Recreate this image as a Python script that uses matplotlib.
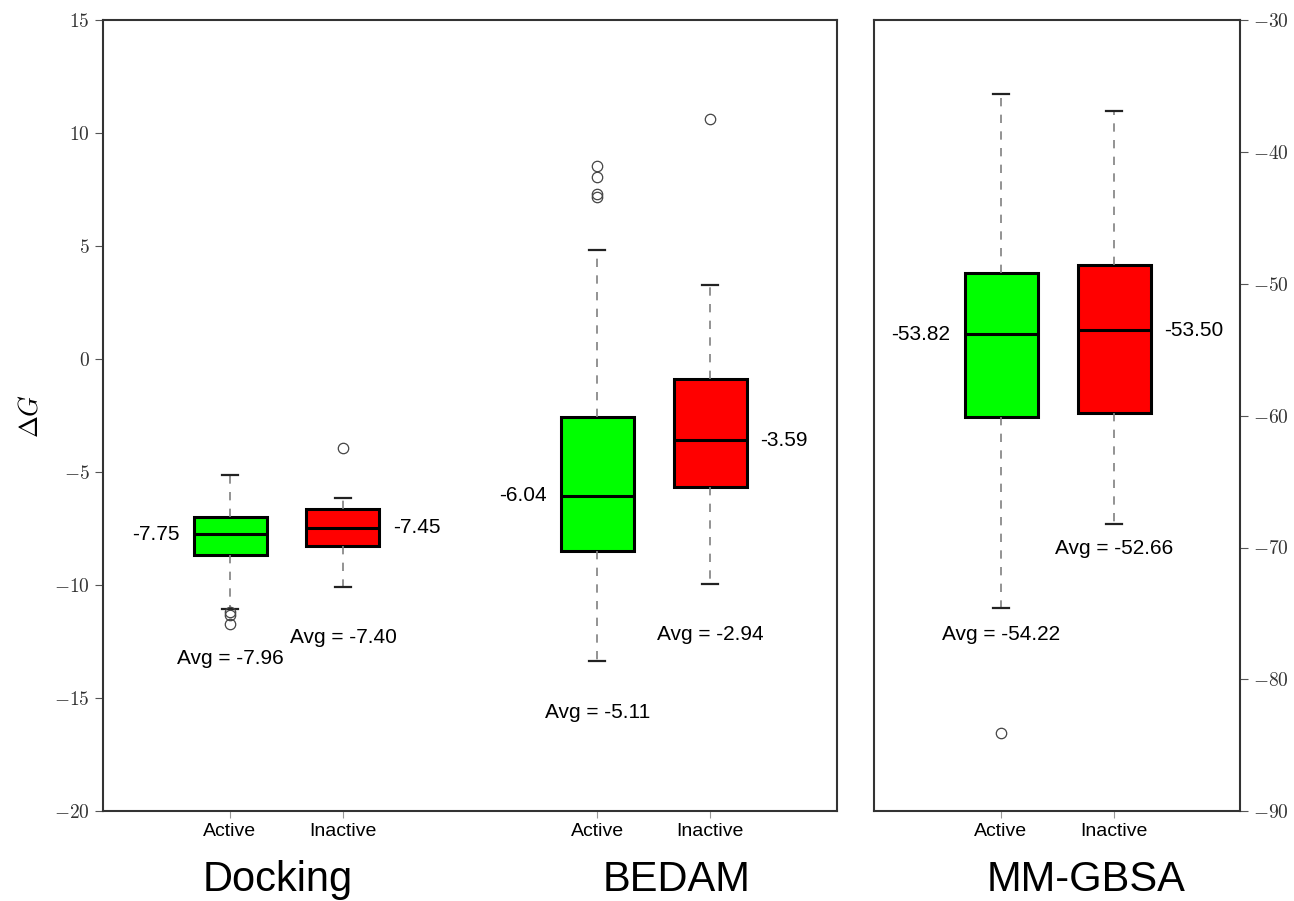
import matplotlib
matplotlib.use('Agg')
import matplotlib.pyplot as plt
from matplotlib.ticker import FuncFormatter

plt.rcParams['font.family'] = ['Liberation Sans', 'DejaVu Sans']
plt.rcParams['mathtext.fontset'] = 'cm'

# box stats: (q1, median, q3, whislo, whishi, outliers)
groups = ['Docking', 'BEDAM', 'MM-GBSA']
labels = ['Active', 'Inactive']
colors = ['#00ff00', '#ff0000']

docking_act = (-8.68, -7.75, -7.0, -11.07, -5.14, [-11.2, -11.33, -11.7])
docking_ina = (-8.28, -7.45, -6.65, -10.1, -6.16, [-3.95])
bedam_act = (-8.51, -6.04, -2.57, -13.38, 4.86, [7.2, 7.34, 8.09, 8.58])
bedam_ina = (-5.67, -3.59, -0.89, -9.97, 3.27, [10.62])
gbsa_act = (-60.13, -53.82, -49.19, -74.57, -35.58, [-84.06])
gbsa_ina = (-59.77, -53.50, -48.58, -68.18, -36.88, [])

averages = [-7.96, -7.40, -5.11, -2.94, -54.22, -52.66]
avg_y = [-13.24, -12.31, -15.63, -12.18, -76.6, -70.08]

left_pos = [1, 2, 4.25, 5.25]
right_pos = [1, 2]


def stats(s):
    q1, med, q3, lo, hi, fl = s
    return dict(q1=q1, med=med, q3=q3, whislo=lo, whishi=hi, fliers=fl)


def draw(ax, data, pos):
    bp = ax.bxp([stats(d) for d in data], positions=pos, widths=0.646,
                patch_artist=True, showfliers=True,
                boxprops=dict(linewidth=2.2, edgecolor='black'),
                medianprops=dict(color='black', linewidth=2.2),
                whiskerprops=dict(color='gray', linestyle=(0, (5, 5)), linewidth=1.2),
                capprops=dict(color='#222222', linewidth=1.6),
                capwidths=0.14,
                flierprops=dict(marker='o', markerfacecolor='none',
                                markeredgecolor='#444444', markersize=7.5,
                                markeredgewidth=0.9))
    for i, b in enumerate(bp['boxes']):
        b.set_facecolor(colors[i % 2])
    return bp


def style(ax):
    for s in ax.spines.values():
        s.set_color('#333333')
        s.set_linewidth(1.5)
    ax.tick_params(axis='y', labelsize=14, colors='#555555', labelcolor='#333333',
                   direction='out', length=6)
    ax.tick_params(axis='x', labelsize=14, colors='#999999', labelcolor='black',
                   direction='out', length=5, pad=4)
    ax.yaxis.set_major_formatter(FuncFormatter(lambda v, p: r'$%d$' % v))


fig = plt.figure(figsize=(12.94, 9.01), dpi=100)
ax1 = fig.add_axes([103 / 1294, 90 / 901, 734 / 1294, 790.5 / 901])
ax2 = fig.add_axes([874 / 1294, 90 / 901, 366 / 1294, 790.5 / 901])

draw(ax1, [docking_act, docking_ina, bedam_act, bedam_ina], left_pos)
draw(ax2, [gbsa_act, gbsa_ina], right_pos)

ax1.set_xlim(-0.124, 6.372)
ax1.set_ylim(-20, 15)
ax1.set_yticks(range(-20, 16, 5))
ax1.set_xticks(left_pos)
ax1.set_xticklabels(labels * 2)
ax1.yaxis.set_ticks_position('left')
ax1.xaxis.set_ticks_position('bottom')
ax1.set_ylabel(r'$\Delta G$', fontsize=19, labelpad=8)

ax2.set_xlim(-0.124, 3.115)
ax2.set_ylim(-90, -30)
ax2.set_yticks(range(-90, -29, 10))
ax2.set_xticks(right_pos)
ax2.set_xticklabels(labels)
ax2.yaxis.set_ticks_position('right')
ax2.xaxis.set_ticks_position('bottom')

style(ax1)
style(ax2)

# median labels: active on the left, inactive on the right
meds = [docking_act, docking_ina, bedam_act, bedam_ina, gbsa_act, gbsa_ina]
axes_pos = [(ax1, p) for p in left_pos] + [(ax2, p) for p in right_pos]
for i, ((ax, p), d) in enumerate(zip(axes_pos, meds)):
    if i % 2 == 0:
        ax.text(p - 0.45, d[1], '%.2f' % d[1], ha='right', va='center', fontsize=15)
    else:
        ax.text(p + 0.44, d[1], '%.2f' % d[1], ha='left', va='center', fontsize=15)
    ax.text(p, avg_y[i], 'Avg = %.2f' % averages[i], ha='center', va='center', fontsize=15)

# group names under the panels
fig.text(278 / 1294, 10 / 901, groups[0], ha='center', va='baseline', fontsize=30)
fig.text(677 / 1294, 10 / 901, groups[1], ha='center', va='baseline', fontsize=30)
fig.text(1086 / 1294, 10 / 901, groups[2], ha='center', va='baseline', fontsize=30)

fig.savefig('out.png', dpi=100)
